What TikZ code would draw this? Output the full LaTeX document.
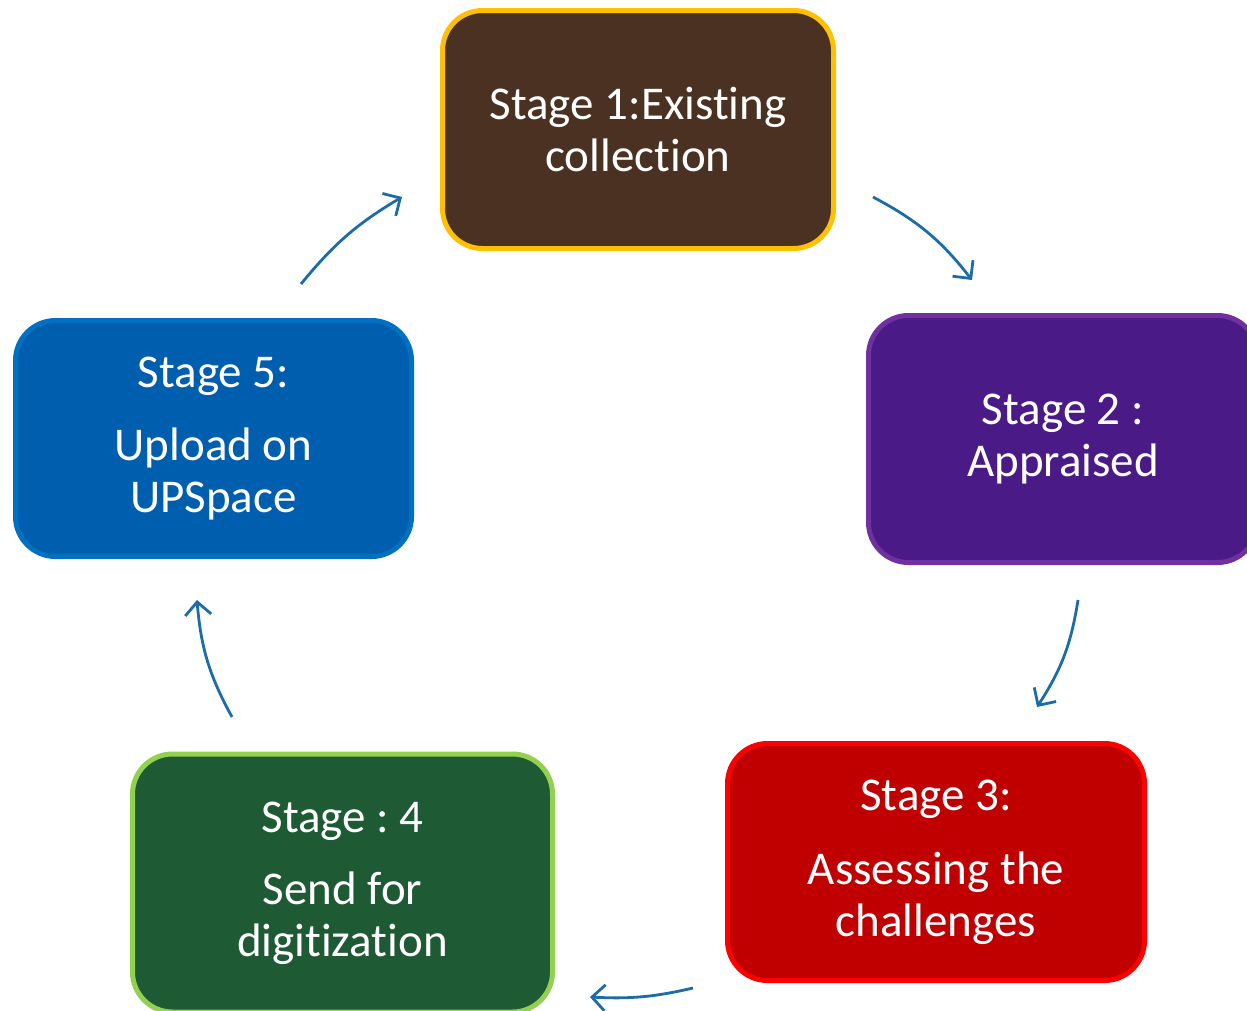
\documentclass[tikz,border=0pt]{standalone}
\usepackage{fontspec}
\setmainfont{Carlito}[Ligatures=NoCommon]
\frenchspacing
\usetikzlibrary{arrows.meta}
\definecolor{brownfill}{HTML}{4B3122}
\definecolor{goldline}{HTML}{FFC000}
\definecolor{purplefill}{HTML}{4A1A86}
\definecolor{purpleline}{HTML}{7030A0}
\definecolor{redfill}{HTML}{C00000}
\definecolor{redline}{HTML}{FF0000}
\definecolor{greenfill}{HTML}{1E5A33}
\definecolor{greenline}{HTML}{92D050}
\definecolor{bluefill}{HTML}{005EAE}
\definecolor{blueline}{HTML}{0070C0}
\definecolor{arrowblue}{HTML}{1B6CA8}
\tikzset{
  stagebox/.style={rounded corners=40pt, line width=5pt, text=white, align=center,
    font=\fontsize{47}{52}\selectfont, inner sep=0pt},
  cyclearrow/.style={draw=arrowblue, line width=2.8pt,
    -{Straight Barb[length=13pt,width=26pt,line width=2.8pt]}}
}
\begin{document}
\begin{tikzpicture}[x=1pt,y=-1pt]
\useasboundingbox (0,0) rectangle (1247,1010);
\clip (0,0) rectangle (1247,1010);
\node[stagebox, draw=goldline, fill=brownfill, minimum width=391pt, minimum height=238pt]
  (s1) at (638,129.5) {Stage 1:Existing\\collection};
\node[stagebox, draw=purpleline, fill=purplefill, minimum width=389pt, minimum height=247pt]
  (s2) at (1063,439) {Stage 2 :\\Appraised};
\node[stagebox, draw=redline, fill=redfill, minimum width=417pt, minimum height=237pt]
  (s3) at (936,862) {Stage 3:\\[22pt]Assessing the\\challenges};
\node[stagebox, draw=greenline, fill=greenfill, minimum width=420pt, minimum height=258pt]
  (s4) at (342.5,883) {Stage : 4\\[20pt]Send for\\digitization};
\node[stagebox, draw=blueline, fill=bluefill, minimum width=396pt, minimum height=236pt]
  (s5) at (213.5,438.5) {Stage 5:\\[21pt]Upload on\\UPSpace};
\coordinate (a1s) at (873,197);
\coordinate (a1e) at (972,280);
\coordinate (a2s) at (1078,600);
\coordinate (a2e) at (1037,707);
\coordinate (a3s) at (693,988);
\coordinate (a3e) at (590,997);
\coordinate (a4s) at (232,717);
\coordinate (a4e) at (197,600);
\coordinate (a5s) at (301,284);
\coordinate (a5e) at (402,197);
\draw[cyclearrow, bend left=12] (a1s) to (a1e);
\draw[cyclearrow, bend left=12] (a2s) to (a2e);
\draw[cyclearrow, bend left=8] (a3s) to (a3e);
\draw[cyclearrow, bend left=12] (a4s) to (a4e);
\draw[cyclearrow, bend left=10] (a5s) to (a5e);
\end{tikzpicture}
\end{document}
